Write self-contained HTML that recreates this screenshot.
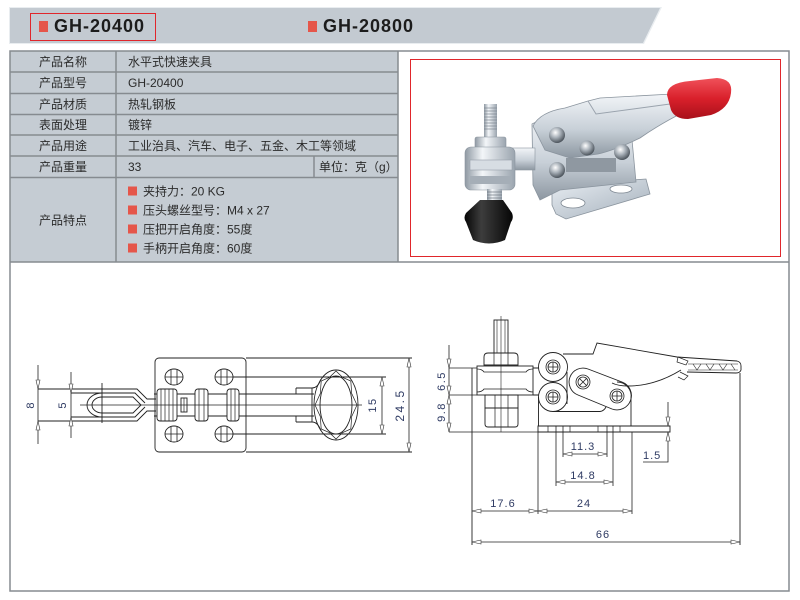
<!DOCTYPE html>
<html><head><meta charset="utf-8">
<style>
html,body{margin:0;padding:0;background:#fff;}
svg{display:block;}
.cj{font-family:"Liberation Sans","Noto Sans CJK SC",sans-serif;font-size:12px;fill:#2b2b2b;}
.d{font-family:"Liberation Sans",sans-serif;font-size:11px;fill:#2f3b63;letter-spacing:1px;}
.hd{font-family:"Liberation Sans",sans-serif;font-weight:bold;font-size:18px;fill:#1c1c1c;letter-spacing:1px;}
</style></head><body>
<svg width="800" height="600" viewBox="0 0 800 600" xmlns="http://www.w3.org/2000/svg">
<defs>
 <linearGradient id="sil" x1="0" y1="0" x2="0" y2="1">
  <stop offset="0" stop-color="#f2f5f8"/><stop offset="0.55" stop-color="#c8d0d8"/><stop offset="1" stop-color="#8d97a1"/>
 </linearGradient>
 <linearGradient id="silh" x1="0" y1="0" x2="1" y2="0">
  <stop offset="0" stop-color="#8f99a3"/><stop offset="0.35" stop-color="#f3f6f9"/><stop offset="1" stop-color="#9aa4ae"/>
 </linearGradient>
 <linearGradient id="sil2" x1="0" y1="0" x2="1" y2="1">
  <stop offset="0" stop-color="#e9eef3"/><stop offset="0.6" stop-color="#bfc8d1"/><stop offset="1" stop-color="#a3adb7"/>
 </linearGradient>
 <radialGradient id="riv" cx="0.4" cy="0.35" r="0.7">
  <stop offset="0" stop-color="#ffffff"/><stop offset="0.45" stop-color="#a9b1b9"/><stop offset="1" stop-color="#3f474f"/>
 </radialGradient>
 <linearGradient id="red" x1="0" y1="0" x2="0" y2="1">
  <stop offset="0" stop-color="#f0515a"/><stop offset="0.5" stop-color="#d9202b"/><stop offset="1" stop-color="#a8101a"/>
 </linearGradient>
 <linearGradient id="rub" x1="0" y1="0" x2="1" y2="0">
  <stop offset="0" stop-color="#050505"/><stop offset="0.35" stop-color="#3d3d3d"/><stop offset="1" stop-color="#060606"/>
 </linearGradient>
</defs>

<!-- HEADER -->
<polygon points="9,7 662,7 644,44 9,44" fill="#e9edf0"/>
<polygon points="10,8 660,8 643,43 10,43" fill="#c3cad1"/>
<rect x="30.5" y="13.5" width="125" height="27" fill="none" stroke="#e0262b" stroke-width="1"/>
<rect x="39" y="21" width="9" height="11" fill="#e5564a"/>
<text class="hd" x="54" y="32">GH-20400</text>
<rect x="308" y="21" width="9" height="11" fill="#e5564a"/>
<text class="hd" x="323" y="32">GH-20800</text>

<!-- TABLE -->
<rect x="10" y="51" width="388" height="211" fill="#c5ccd3"/>
<g stroke="#868b90" stroke-width="1.5" fill="none">
 <rect x="10" y="51" width="779" height="540"/>
 <line x1="10" y1="262" x2="789" y2="262"/>
 <line x1="398" y1="51" x2="398" y2="262"/>
 <line x1="116" y1="51" x2="116" y2="262"/>
 <line x1="10" y1="72" x2="398" y2="72"/>
 <line x1="10" y1="93.5" x2="398" y2="93.5"/>
 <line x1="10" y1="114.5" x2="398" y2="114.5"/>
 <line x1="10" y1="135" x2="398" y2="135"/>
 <line x1="10" y1="156" x2="398" y2="156"/>
 <line x1="10" y1="177.5" x2="398" y2="177.5"/>
 <line x1="314" y1="156" x2="314" y2="177.5"/>
</g>
<g class="cj" text-anchor="middle">
 <text x="63" y="66">产品名称</text>
 <text x="63" y="87">产品型号</text>
 <text x="63" y="108.5">产品材质</text>
 <text x="63" y="129">表面处理</text>
 <text x="63" y="150">产品用途</text>
 <text x="63" y="171">产品重量</text>
 <text x="63" y="224.5">产品特点</text>
</g>
<g class="cj">
 <text x="128" y="66">水平式快速夹具</text>
 <text x="128" y="87">GH-20400</text>
 <text x="128" y="108.5">热轧钢板</text>
 <text x="128" y="129">镀锌</text>
 <text x="128" y="150">工业治具、汽车、电子、五金、木工等领域</text>
 <text x="128" y="171">33</text>
 <text x="319" y="171">单位：克（g）</text>
 <text x="143" y="195.5">夹持力：20 KG</text>
 <text x="143" y="214.5">压头螺丝型号：M4 x 27</text>
 <text x="143" y="233.5">压把开启角度：55度</text>
 <text x="143" y="252.5">手柄开启角度：60度</text>
</g>
<g fill="#e5564a">
 <rect x="128" y="186.5" width="9" height="9"/>
 <rect x="128" y="205.5" width="9" height="9"/>
 <rect x="128" y="224.5" width="9" height="9"/>
 <rect x="128" y="243.5" width="9" height="9"/>
</g>

<!-- PHOTO -->
<rect x="410.5" y="59.5" width="370" height="197" fill="#fff" stroke="#e0262b" stroke-width="1"/>
<g>
 <!-- base plate -->
 <polygon points="552,186 646,179 650,194 566,219 556,214 552,205" fill="url(#sil2)" stroke="#8a949e" stroke-width="0.8"/>
 <ellipse cx="573" cy="203" rx="12" ry="5" fill="#fff" stroke="#7d8791" stroke-width="0.8"/>
 <ellipse cx="621" cy="189" rx="11" ry="4" fill="#fff" stroke="#7d8791" stroke-width="0.8"/>
 <!-- body -->
 <path d="M532,124 L548,116 L586,118 L600,138 L632,140 L636,182 L560,190 L540,200 L533,185 Z" fill="url(#sil)" stroke="#8a949e" stroke-width="0.8"/>
 <rect x="566" y="158" width="50" height="14" fill="#8f98a1"/>
 <!-- handle -->
 <path d="M533,126 Q540,112 565,108 L588,101 L600,98 L672,94 L684,112 Q660,124 640,138 Q615,150 598,154 L570,158 L545,150 Z" fill="url(#sil)" stroke="#8a949e" stroke-width="0.8"/>
 <path d="M588,101 L596,114 L670,104" fill="none" stroke="#9aa3ad" stroke-width="1"/>
 <!-- red grip -->
 <path d="M667,95 Q667,83 690,81 L717,78 Q733,79 731,93 Q729,109 711,115 L688,119 Q675,119 671,110 Z" fill="url(#red)"/>
 <!-- rivets -->
 <circle cx="557" cy="135" r="8" fill="url(#riv)"/>
 <circle cx="587" cy="148" r="7.5" fill="url(#riv)"/>
 <circle cx="622" cy="152" r="8" fill="url(#riv)"/>
 <circle cx="557" cy="170" r="8" fill="url(#riv)"/>
 <!-- arm connecting -->
 <rect x="505" y="148" width="30" height="22" fill="url(#sil)" stroke="#8a949e" stroke-width="0.6"/>
 <!-- stud -->
 <rect x="484" y="104" width="13" height="35" fill="url(#silh)"/>
 <g stroke="#7c858e" stroke-width="0.7">
  <line x1="484" y1="108" x2="497" y2="108"/><line x1="484" y1="111" x2="497" y2="111"/>
  <line x1="484" y1="114" x2="497" y2="114"/><line x1="484" y1="117" x2="497" y2="117"/>
  <line x1="484" y1="120" x2="497" y2="120"/><line x1="484" y1="123" x2="497" y2="123"/>
  <line x1="484" y1="126" x2="497" y2="126"/><line x1="484" y1="129" x2="497" y2="129"/>
 </g>
 <rect x="475" y="137" width="31" height="14" rx="2" fill="url(#silh)" stroke="#8a949e" stroke-width="0.6"/>
 <!-- head -->
 <rect x="465" y="147" width="50" height="43" rx="6" fill="url(#silh)" stroke="#8a949e" stroke-width="0.6"/>
 <rect x="470" y="160" width="42" height="10" fill="#d7dde3" stroke="#97a0a9" stroke-width="0.6"/>
 <rect x="470" y="176" width="42" height="8" fill="#a5aeb7"/>
 <!-- lower thread -->
 <rect x="487" y="189" width="15" height="13" fill="url(#silh)"/>
 <g stroke="#6d7680" stroke-width="0.7">
  <line x1="487" y1="192" x2="502" y2="192"/><line x1="487" y1="195" x2="502" y2="195"/><line x1="487" y1="198" x2="502" y2="198"/>
 </g>
 <!-- rubber -->
 <path d="M480,200 L503,200 L512,213 Q514,218 511,222 L505,240 Q489,247 473,240 L466,222 Q463,218 466,213 Z" fill="url(#rub)"/>
</g>

<!-- LEFT DRAWING (top view) -->
<g fill="none" stroke="#222" stroke-width="0.9">
 <!-- plate -->
 <rect x="155" y="358" width="91" height="94" rx="4"/>
 <line x1="246" y1="358" x2="412" y2="358"/>
 <line x1="246" y1="452" x2="412" y2="452"/>
 <line x1="233" y1="377" x2="386" y2="377"/>
 <line x1="233" y1="434" x2="386" y2="434"/>
 <!-- holes -->
 <ellipse cx="174" cy="377" rx="9" ry="8"/>
 <ellipse cx="224" cy="377" rx="9" ry="8"/>
 <ellipse cx="174" cy="434" rx="9" ry="8"/>
 <ellipse cx="224" cy="434" rx="9" ry="8"/>
 <path d="M165,377 H183 M171,370 V384 M177,370 V384 M215,377 H233 M221,370 V384 M227,370 V384 M165,434 H183 M171,427 V441 M177,427 V441 M215,434 H233 M221,427 V441 M227,427 V441" stroke-width="0.8"/>
 <!-- hook -->
 <path d="M38,389 L137,389 L147,399 L156,399 M38,421 L137,421 L147,411 L156,411"/>
 <path d="M71,393 L135,393 L145,403 M71,417 L135,417 L145,407"/>
 <path d="M102,393 A15,12 0 0 0 102,417"/>
 <path d="M133,397 L102,397 A10,8 0 0 0 102,413 L133,413 L141,405 Z"/>
 <line x1="102" y1="383" x2="102" y2="423"/>
 <!-- spindle -->
 <line x1="154" y1="394" x2="314" y2="394"/>
 <line x1="154" y1="416" x2="314" y2="416"/>
 <!-- collars -->
 <rect x="157" y="389" width="20" height="32" rx="3" fill="#fff"/>
 <path d="M161,389 V421 M165,389 V421 M169,389 V421 M173,389 V421" stroke-width="0.7"/>
 <rect x="181" y="398" width="6" height="14"/>
 <path d="M184,398 V412" stroke-width="0.7"/>
 <rect x="195" y="389" width="13" height="32" rx="3" fill="#fff"/>
 <path d="M199,389 V421 M204,389 V421" stroke-width="0.7"/>
 <rect x="227" y="389" width="12" height="32" rx="3" fill="#fff"/>
 <path d="M231,389 V421 M235,389 V421" stroke-width="0.7"/>
 <!-- ring -->
 <path d="M296,388 H312 Q318,388 321,379 M296,422 H312 Q318,422 321,431 M296,388 V394 M296,416 V422 M312,388 V422"/>
 <ellipse cx="336" cy="405" rx="22" ry="35"/>
 <ellipse cx="336" cy="405" rx="16" ry="29"/>
 <polygon points="357,405 351.7,416.5 350.8,429 342.5,432.7 336,439 329.5,432.7 321.2,429 320.3,416.5 315,405 320.3,393.5 321.2,381 329.5,377.3 336,371 342.5,377.3 350.8,381 351.7,393.5" stroke-width="0.7"/>
 <line x1="80" y1="405" x2="362" y2="405" stroke-width="0.7"/>
 <!-- dimension lines -->
 <line x1="38" y1="365" x2="38" y2="444" stroke-width="0.8"/>
 <line x1="71" y1="372" x2="71" y2="438" stroke-width="0.8"/>
 <line x1="382" y1="377" x2="382" y2="434" stroke-width="0.8"/>
 <line x1="409" y1="358" x2="409" y2="452" stroke-width="0.8"/>
</g>
<g fill="#fff" stroke="#333" stroke-width="0.6">
 <polygon points="38,389 36,380 40,380"/><polygon points="38,421 36,430 40,430"/>
 <polygon points="71,393 69,384 73,384"/><polygon points="71,417 69,426 73,426"/>
 <polygon points="382,377 380,386 384,386"/><polygon points="382,434 380,425 384,425"/>
 <polygon points="409,358 407,367 411,367"/><polygon points="409,452 407,443 411,443"/>
</g>
<g class="d" text-anchor="middle" dominant-baseline="central">
 <text transform="translate(31,405) rotate(-90)">8</text>
 <text transform="translate(63,405) rotate(-90)">5</text>
 <text transform="translate(373,405) rotate(-90)" style="letter-spacing:1.5px">15</text>
 <text transform="translate(400,405) rotate(-90)" style="letter-spacing:2.5px;font-size:12px">24.5</text>
</g>

<!-- RIGHT DRAWING (side view) -->
<g fill="none" stroke="#222" stroke-width="0.9">
 <!-- stud -->
 <rect x="494" y="320" width="14" height="33"/>
 <path d="M497,320 V353 M505,320 V353" stroke-width="0.6"/>
 <!-- top nut -->
 <path d="M484,365 V357 Q484,353 488,353 H514 Q518,353 518,357 V365 Z"/>
 <path d="M494,353 V365 M508,353 V365" stroke-width="0.7"/>
 <!-- head -->
 <rect x="477" y="366" width="56" height="29"/>
 <path d="M477,369 Q482,369 484,372 H526 Q528,369 533,369 M477,392 Q482,392 484,389 H526 Q528,392 533,392" stroke-width="0.8"/>
 <line x1="472" y1="368" x2="472" y2="545"/>
 <!-- lower nuts -->
 <path d="M485,395 H518 V408 H485 Z"/>
 <path d="M495,395 V408 M508,395 V408" stroke-width="0.7"/>
 <path d="M485,408 H518 V424 Q518,427 515,427 H488 Q485,427 485,424 Z"/>
 <path d="M495,408 V427 M508,408 V427" stroke-width="0.7"/>
 <line x1="501" y1="316" x2="501" y2="432" stroke-width="0.6"/>
 <!-- connection head-body -->
 <path d="M533,368 H539 M533,395 H539"/>
 <!-- left lobes -->
 <circle cx="553" cy="367" r="14.5"/>
 <circle cx="553" cy="397" r="14.5"/>
 <path d="M538.5,397 V426 M567,372 V404"/>
 <path d="M553,411.5 H600 Q604,411 606,407"/>
 <!-- handle -->
 <path d="M563,354 H593 L597,343 L677,357 L737,361 Q741,362 741,366 V370 Q740,373 736,373 L687,372"/>
 <path d="M681,370 Q655,386 628,386 Q618,386 612,383"/>
 <path d="M678,357 L688,361 L686,365 L677,362 Z M680,372 L688,376 L684,380 L678,377" stroke-width="0.7"/>
 <path d="M688,364 H738 M688,370 H738" stroke-width="0.6"/>
 <path d="M693,364 L697,370 L701,364 M706,364 L710,370 L714,364 M719,364 L723,370 L727,364 M731,364 L735,370" stroke-width="0.6"/>
 <!-- link -->
 <path d="M588,369 L622,382 A14,14 0 0 1 612,409 L578,395 A13,13 0 0 1 588,369 Z"/>
 <path d="M617,382 A14,14 0 0 1 631,398 V426"/>
 <!-- pivots -->
 <g stroke-width="0.8">
  <circle cx="553" cy="367" r="7"/><circle cx="553" cy="367" r="5"/>
  <path d="M548,367 H558 M553,362 V372"/>
  <circle cx="553" cy="397" r="7"/><circle cx="553" cy="397" r="5"/>
  <path d="M548,397 H558 M553,392 V402"/>
  <circle cx="583" cy="382" r="7"/><circle cx="583" cy="382" r="5"/>
  <path d="M579.5,378.5 L586.5,385.5 M586.5,378.5 L579.5,385.5"/>
  <circle cx="617" cy="396" r="7"/><circle cx="617" cy="396" r="5"/>
  <path d="M612,396 H622 M617,391 V401"/>
 </g>
 <!-- base plate -->
 <path d="M538,426 H670 V432 H538 Z"/>
 <path d="M548,426 V432 M570,426 V432 M598,426 V432 M620,426 V432" stroke-width="0.7"/>
 <line x1="740" y1="373" x2="740" y2="545"/>
</g>
<g fill="none" stroke="#222" stroke-width="0.8">
 <!-- dim 6.5 / 9.8 -->
 <line x1="449" y1="345" x2="449" y2="432"/>
 <line x1="449" y1="368" x2="477" y2="368"/>
 <line x1="449" y1="395" x2="477" y2="395"/>
 <line x1="449" y1="432" x2="538" y2="432"/>
 <!-- extension lines -->
 <line x1="538" y1="432" x2="538" y2="514"/>
 <line x1="556" y1="426" x2="556" y2="486"/>
 <line x1="563" y1="426" x2="563" y2="457"/>
 <line x1="607" y1="426" x2="607" y2="457"/>
 <line x1="613" y1="426" x2="613" y2="486"/>
 <line x1="632" y1="432" x2="632" y2="514"/>
 <!-- dim lines -->
 <line x1="563" y1="454" x2="607" y2="454"/>
 <line x1="556" y1="482" x2="613" y2="482"/>
 <line x1="472" y1="511" x2="632" y2="511"/>
 <line x1="472" y1="542" x2="740" y2="542"/>
 <!-- 1.5 -->
 <line x1="668" y1="402" x2="668" y2="426"/>
 <polyline points="668,432 668,462 643,462"/>
</g>
<g fill="#fff" stroke="#333" stroke-width="0.6">
 <polygon points="449,368 447,359 451,359"/>
 <polygon points="449,395 447,386 451,386"/>
 <polygon points="449,395 447,404 451,404"/>
 <polygon points="449,432 447,423 451,423"/>
 <polygon points="668,426 666,417 670,417"/>
 <polygon points="668,432 666,441 670,441"/>
 <polygon points="563,454 572,452 572,456"/><polygon points="607,454 598,452 598,456"/>
 <polygon points="556,482 565,480 565,484"/><polygon points="613,482 604,480 604,484"/>
 <polygon points="472,511 481,509 481,513"/><polygon points="538,511 529,509 529,513"/>
 <polygon points="538,511 547,509 547,513"/><polygon points="632,511 623,509 623,513"/>
 <polygon points="472,542 481,540 481,544"/><polygon points="740,542 731,540 731,544"/>
</g>
<g class="d" text-anchor="middle" dominant-baseline="central">
 <text transform="translate(442,381) rotate(-90)" style="letter-spacing:1.5px">6.5</text>
 <text transform="translate(442,412) rotate(-90)" style="letter-spacing:1.5px">9.8</text>
</g>
<g class="d" text-anchor="middle">
 <text x="583" y="450">11.3</text>
 <text x="583" y="479">14.8</text>
 <text x="503" y="507">17.6</text>
 <text x="584" y="507">24</text>
 <text x="603" y="538">66</text>
</g>
<text class="d" x="643" y="459">1.5</text>
</svg>
</body></html>
